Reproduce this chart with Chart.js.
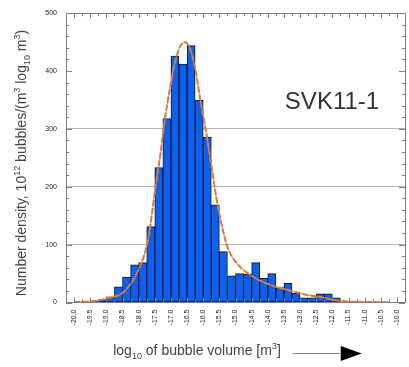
<!DOCTYPE html>
<html>
<head>
<meta charset="utf-8">
<script src="https://cdn.jsdelivr.net/npm/chart.js@4.4.1/dist/chart.umd.min.js"></script>
<style>
  html, body { margin: 0; padding: 0; background: #fff; }
  #wrap { width: 409px; height: 367px; }
</style>
</head>
<body>
<div id="wrap"><canvas id="bubbleChart"></canvas></div>
<script>
// histogram bins (0.25 wide), centre of each bin
const binCenters = [-19.875, -19.625, -19.375, -19.125, -18.875, -18.625, -18.375, -18.125,
  -17.875, -17.625, -17.375, -17.125, -16.875, -16.625, -16.375, -16.125,
  -15.875, -15.625, -15.375, -15.125, -14.875, -14.625, -14.375, -14.125,
  -13.875, -13.625, -13.375, -13.125, -12.875, -12.625, -12.375, -12.125,
  -11.875, -11.625, -11.375, -11.125, -10.875, -10.625, -10.375, -10.125];
const counts = [0, 0, 2, 5, 10, 27, 44, 65, 69, 131, 233, 318, 426, 412, 444, 350,
  286, 169, 88, 46, 50, 49, 69, 42, 50, 26, 33, 16, 8, 8, 15, 15, 8, 0, 0, 0, 0, 0, 0, 0];

// fitted curve
const fitX = [-20.0, -19.5, -19.0, -18.45, -17.96, -17.71, -17.46, -17.32, -17.22, -17.02,
  -16.83, -16.58, -16.43, -16.24, -16.09, -15.94, -15.74, -15.6, -15.45, -15.25,
  -14.96, -14.66, -14.17, -13.68, -13.19, -12.79, -12.4, -11.91, -11.42, -10.25];
const fitY = [1, 2, 7, 19, 62, 108, 206, 258, 304, 373, 425, 450, 442, 402, 350, 304,
  235, 183, 140, 96, 68, 52, 36, 26, 19, 13, 10, 4, 1.5, 0.5];

const xTickValues = [-20, -19.5, -19, -18.5, -18, -17.5, -17, -16.5, -16, -15.5, -15,
  -14.5, -14, -13.5, -13, -12.5, -12, -11.5, -11, -10.5, -10];
const yTickValues = [0, 100, 200, 300, 400, 500];
const gridValues = [100, 200, 300];

const barPoints = binCenters.map((x, i) => ({ x: x, y: counts[i] }));
const fitPoints = fitX.map((x, i) => ({ x: x, y: fitY[i] }));

// draw text with sub/superscripts
function richText(ctx, parts, cx, cy, size) {
  const fontOf = p => (p.s ? Math.round(size * 0.62) : size) + 'px "Liberation Sans", Arial, sans-serif';
  let total = 0;
  parts.forEach(p => { ctx.font = fontOf(p); total += ctx.measureText(p.t).width; });
  let x = cx - total / 2;
  parts.forEach(p => {
    ctx.font = fontOf(p);
    let dy = 0;
    if (p.s === 'sup') dy = -size * 0.42;
    if (p.s === 'sub') dy = size * 0.28;
    ctx.fillText(p.t, x, cy + dy);
    x += ctx.measureText(p.t).width;
  });
  return cx + total / 2;
}

const frameAndTitles = {
  id: 'frameAndTitles',
  afterDatasetsDraw(chart) {
    const { ctx, chartArea: a, scales: { x, y } } = chart;
    ctx.save();
    ctx.strokeStyle = '#808080';
    ctx.lineWidth = 1;
    ctx.beginPath();
    // x ticks every 0.25, bottom and top, pointing inward
    for (let k = 0; k <= 40; k++) {
      const v = -20 + k * 0.25;
      const px = Math.round(x.getPixelForValue(v)) + 0.5;
      const len = k % 2 === 0 ? 5 : 3;
      ctx.moveTo(px, a.bottom); ctx.lineTo(px, a.bottom - len);
      ctx.moveTo(px, a.top); ctx.lineTo(px, a.top + len);
    }
    // y ticks every 20, left and right
    for (let v = 0; v <= 500; v += 20) {
      const py = Math.round(y.getPixelForValue(v)) + 0.5;
      const len = v % 100 === 0 ? 6 : 3;
      ctx.moveTo(a.left, py); ctx.lineTo(a.left + len, py);
      ctx.moveTo(a.right, py); ctx.lineTo(a.right - len, py);
    }
    ctx.stroke();
    ctx.strokeRect(Math.round(a.left) + 0.5, Math.round(a.top) + 0.5,
      Math.round(a.right - a.left), Math.round(a.bottom - a.top));
    ctx.restore();
  },
  afterDraw(chart) {
    const ctx = chart.ctx;
    ctx.save();
    ctx.fillStyle = '#444';
    ctx.textBaseline = 'alphabetic';
    ctx.textAlign = 'left';

    // y title
    ctx.save();
    ctx.translate(26, 163);
    ctx.rotate(-Math.PI / 2);
    richText(ctx, [
      { t: 'Number density, 10' }, { t: '12', s: 'sup' }, { t: ' bubbles/(m' },
      { t: '3', s: 'sup' }, { t: ' log' }, { t: '10', s: 'sub' }, { t: ' m' },
      { t: '3', s: 'sup' }, { t: ')' }
    ], 0, 0, 14);
    ctx.restore();

    // x title
    const end = richText(ctx, [
      { t: 'log' }, { t: '10', s: 'sub' }, { t: ' of bubble volume [m' },
      { t: '3', s: 'sup' }, { t: ']' }
    ], 197, 355, 14);

    // arrow
    ctx.strokeStyle = '#888';
    ctx.lineWidth = 1;
    ctx.beginPath();
    ctx.moveTo(end + 12, 353.5);
    ctx.lineTo(end + 60, 353.5);
    ctx.stroke();
    ctx.fillStyle = '#000';
    ctx.beginPath();
    ctx.moveTo(end + 60, 346);
    ctx.lineTo(end + 81, 353.5);
    ctx.lineTo(end + 60, 361);
    ctx.closePath();
    ctx.fill();

    // sample label
    ctx.fillStyle = '#333';
    ctx.font = '24px "Liberation Sans", Arial, sans-serif';
    ctx.textAlign = 'center';
    ctx.fillText('SVK11-1', 332, 109);
    ctx.restore();
  }
};

new Chart(document.getElementById('bubbleChart'), {
  type: 'bar',
  data: {
    datasets: [
      {
        type: 'line',
        data: fitPoints,
        borderColor: '#e8762a',
        borderWidth: 2,
        borderDash: [6, 2],
        pointRadius: 0,
        cubicInterpolationMode: 'monotone',
        order: 0
      },
      {
        type: 'line',
        data: fitPoints,
        borderColor: '#a0a0a0',
        borderWidth: 1,
        pointRadius: 0,
        cubicInterpolationMode: 'monotone',
        order: 1
      },
      {
        data: barPoints,
        backgroundColor: '#0b61ee',
        borderColor: '#0a1638',
        borderWidth: ctx => (ctx.raw && ctx.raw.y > 0 ? 1 : 0),
        borderSkipped: false,
        barPercentage: 1,
        categoryPercentage: 1,
        order: 2
      }
    ]
  },
  options: {
    responsive: true,
    maintainAspectRatio: false,
    animation: false,
    layout: { padding: { left: 0, right: 4, top: 13, bottom: 0 } },
    plugins: { legend: { display: false }, tooltip: { enabled: false } },
    scales: {
      x: {
        type: 'linear',
        min: -20,
        max: -10,
        afterFit: s => { s.height = 64.5; s.paddingLeft = 0; s.paddingRight = 0; },
        afterBuildTicks: s => { s.ticks = xTickValues.map(v => ({ value: v })); },
        grid: { display: false, drawTicks: false },
        border: { display: false },
        ticks: {
          autoSkip: false,
          minRotation: 90,
          maxRotation: 90,
          padding: 7,
          color: '#222',
          font: { family: '"Liberation Sans", Arial, sans-serif', size: 7 },
          callback: v => v.toFixed(1)
        }
      },
      y: {
        min: 0,
        max: 500,
        afterFit: s => { s.width = 66; },
        afterBuildTicks: s => { s.ticks = yTickValues.map(v => ({ value: v })); },
        grid: {
          drawTicks: false,
          color: c => (gridValues.includes(c.tick.value) ? '#b4b4b4' : 'rgba(0,0,0,0)'),
          lineWidth: 1
        },
        border: { display: false },
        ticks: {
          padding: 9,
          color: '#222',
          font: { family: '"Liberation Sans", Arial, sans-serif', size: 7 }
        }
      }
    }
  },
  plugins: [frameAndTitles]
});
</script>
</body>
</html>
